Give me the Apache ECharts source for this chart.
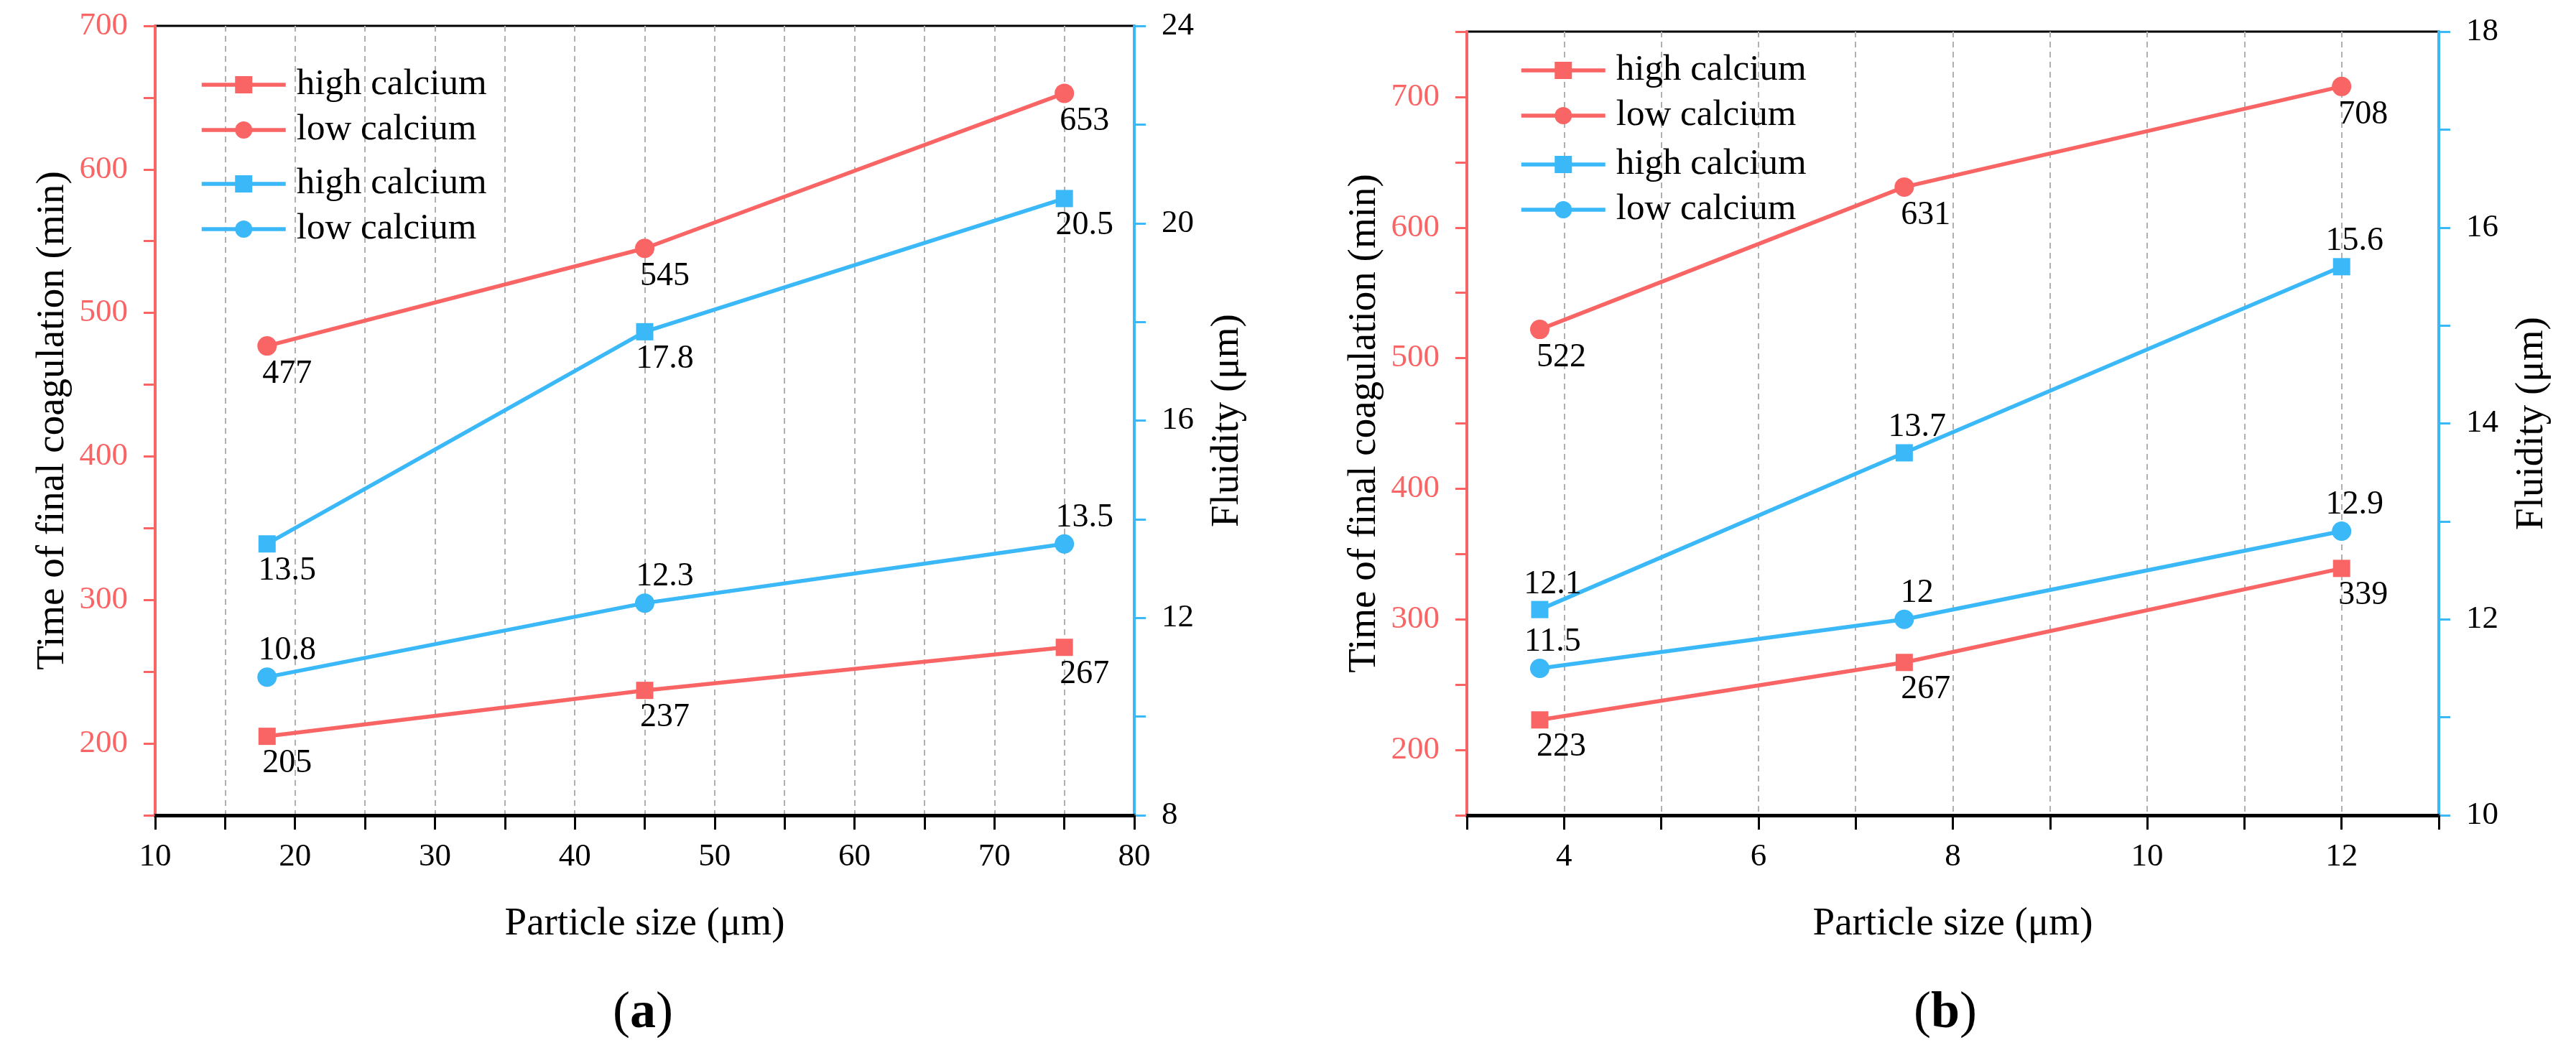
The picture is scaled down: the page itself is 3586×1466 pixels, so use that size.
<!DOCTYPE html>
<html>
<head>
<meta charset="utf-8">
<title>Final coagulation time and fluidity vs particle size</title>
<script src="https://cdn.jsdelivr.net/npm/echarts@6/dist/echarts.min.js"></script>
<style>
  html, body { margin: 0; padding: 0; background: #fff; }
  #chart { width: 3586px; height: 1466px; }
</style>
</head>
<body>
<div id="chart"></div>
<script>
// panel (a)
const sizeA = [18, 45, 75]
const highTimeA = [205, 237, 267]
const lowTimeA = [477, 545, 653]
const highFluidA = [13.5, 17.8, 20.5]
const lowFluidA = [10.8, 12.3, 13.5]

// panel (b)
const sizeB = [3.75, 7.5, 12]
const highTimeB = [223, 267, 339]
const lowTimeB = [522, 631, 708]
const highFluidB = [12.1, 13.7, 15.6]
const lowFluidB = [11.5, 12, 12.9]

const RED = '#F96565'
const BLUE = '#3BB8F8'
const FONT = '"Liberation Serif", "Times New Roman", serif'
const ZW = '\u200b' // keeps the blue legend names apart from the red ones

const pairs = (xs, ys) => xs.map((x, i) => [x, ys[i]])

const line = (name, xIdx, yIdx, xs, ys, color, symbol, pos, dx) => ({
  name: name,
  type: 'line',
  xAxisIndex: xIdx,
  yAxisIndex: yIdx,
  data: pairs(xs, ys),
  symbol: symbol,
  symbolSize: symbol === 'rect' ? 24 : 27,
  lineStyle: { color: color, width: 5.5 },
  itemStyle: { color: color },
  label: {
    show: true,
    position: pos,
    distance: pos === 'top' ? 0 : 3,
    offset: [dx, 0],
    color: '#000',
    fontFamily: FONT,
    fontSize: 46
  },
  emphasis: { disabled: true },
  animation: false
})

const xAxis = (gridIdx, min, max, step, every) => ({
  type: 'value',
  gridIndex: gridIdx,
  min: min,
  max: max,
  interval: step,
  name: 'Particle size (μm)',
  nameLocation: 'middle',
  nameGap: 124,
  nameTextStyle: { color: '#000', fontFamily: FONT, fontSize: 55 },
  axisLine: { lineStyle: { color: '#000', width: 5 } },
  axisTick: { length: 20, lineStyle: { color: '#000', width: 3 } },
  axisLabel: {
    margin: 36,
    color: '#000',
    fontFamily: FONT,
    fontSize: 45,
    formatter: v => (Math.round(v) % every === 0 ? String(v) : '')
  },
  splitLine: { show: true, lineStyle: { color: '#b0b0b0', width: 2, type: [8, 6] } }
})

const yAxis = (gridIdx, side, min, max, step, every, color, labelColor, name, gap) => ({
  type: 'value',
  gridIndex: gridIdx,
  position: side,
  min: min,
  max: max,
  interval: step,
  name: name,
  nameLocation: 'middle',
  nameRotate: 90,
  nameGap: gap,
  nameTextStyle: { color: '#000', fontFamily: FONT, fontSize: 55 },
  axisLine: { show: true, lineStyle: { color: color, width: 4 } },
  axisTick: { show: true, length: 16, lineStyle: { color: color, width: 3 } },
  axisLabel: {
    margin: 38,
    color: labelColor,
    fontFamily: FONT,
    fontSize: 45,
    formatter: v => (Math.round(v * 10) % (every * 10) === 0 ? String(v) : '')
  },
  splitLine: { show: false }
})

const legend = (left, top, names) => ({
  orient: 'vertical',
  left: left,
  top: top,
  itemWidth: 117,
  itemHeight: 30,
  itemGap: 11,
  selectedMode: false,
  data: names,
  formatter: n => n.replace(ZW, ''),
  lineStyle: { width: 5.5 },
  textStyle: {
    color: '#000',
    fontFamily: FONT,
    fontSize: 51,
    lineHeight: 52,
    padding: [0, 0, 0, 10]
  }
})

const panelTitle = (x, letter) => ({
  text: '(' + '{b|' + letter + '})',
  left: x,
  top: 1370,
  textAlign: 'center',
  textStyle: {
    color: '#000',
    fontFamily: FONT,
    fontSize: 72,
    fontWeight: 'normal',
    rich: { b: { fontFamily: FONT, fontSize: 72, fontWeight: 'bold', color: '#000' } }
  }
})

const option = {
  backgroundColor: '#fff',
  animation: false,
  title: [panelTitle(890, 'a'), panelTitle(2703, 'b')],
  legend: [
    legend(273, 87, ['high calcium', 'low calcium']),
    legend(273, 225, ['high calcium' + ZW, 'low calcium' + ZW]),
    legend(2110, 67, ['high calcium', 'low calcium']),
    legend(2110, 198, ['high calcium' + ZW, 'low calcium' + ZW])
  ],
  grid: [
    { left: 216, right: 2007, top: 36, bottom: 331, show: true, borderColor: '#000', borderWidth: 3 },
    { left: 2042, right: 191, top: 44, bottom: 331, show: true, borderColor: '#000', borderWidth: 3 }
  ],
  xAxis: [
    xAxis(0, 10, 80, 5, 10),
    xAxis(1, 3, 13, 1, 2)
  ],
  yAxis: [
    yAxis(0, 'left', 150, 700, 50, 100, RED, RED, 'Time of final coagulation (min)', 115),
    yAxis(0, 'right', 8, 24, 2, 4, BLUE, '#000', 'Fluidity (μm)', 102),
    yAxis(1, 'left', 150, 750, 50, 100, RED, RED, 'Time of final coagulation (min)', 115),
    yAxis(1, 'right', 10, 18, 1, 2, BLUE, '#000', 'Fluidity (μm)', 102)
  ],
  series: [
    line('high calcium', 0, 0, sizeA, highTimeA, RED, 'rect', 'bottom', 28),
    line('low calcium', 0, 0, sizeA, lowTimeA, RED, 'circle', 'bottom', 28),
    line('high calcium' + ZW, 0, 1, sizeA, highFluidA, BLUE, 'rect', 'bottom', 28),
    line('low calcium' + ZW, 0, 1, sizeA, lowFluidA, BLUE, 'circle', 'top', 28),
    line('high calcium', 1, 2, sizeB, highTimeB, RED, 'rect', 'bottom', 30),
    line('low calcium', 1, 2, sizeB, lowTimeB, RED, 'circle', 'bottom', 30),
    line('high calcium' + ZW, 1, 3, sizeB, highFluidB, BLUE, 'rect', 'top', 18),
    line('low calcium' + ZW, 1, 3, sizeB, lowFluidB, BLUE, 'circle', 'top', 18)
  ]
}

const chart = echarts.init(document.getElementById('chart'))
chart.setOption(option)
</script>
</body>
</html>
